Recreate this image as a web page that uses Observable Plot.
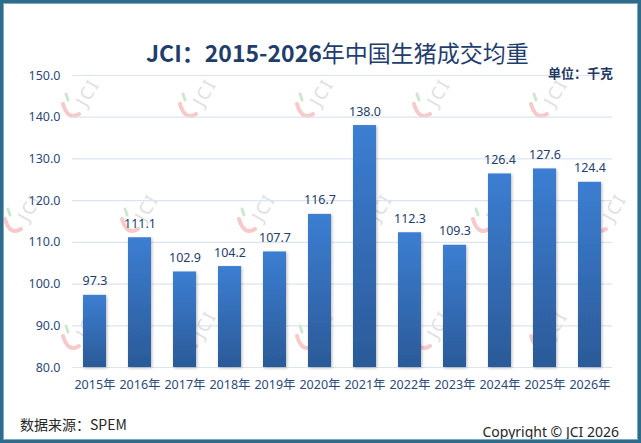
<!DOCTYPE html>
<html>
<head>
<meta charset="utf-8">
<script src="https://cdn.jsdelivr.net/npm/d3@7"></script>
<script src="https://cdn.jsdelivr.net/npm/@observablehq/plot@0.6"></script>
<style>
  html, body { margin: 0; padding: 0; background: #fff; }
  #page { position: relative; width: 641px; height: 443px; background: #fff; overflow: hidden; }
  #frame { position: absolute; left: 0; top: 0; width: 641px; height: 443px; box-sizing: border-box;
           border: 3px solid #2e6c8c; box-shadow: inset 0 0 0 1px #7fa9c2; pointer-events: none; z-index: 10; }
  #wm { position: absolute; left: 0; top: 0; z-index: 0; }
  #chart { position: absolute; left: 0; top: 60px; z-index: 1; }
  .txt { position: absolute; z-index: 2; white-space: nowrap; }
  #title { left: 146px; top: 35px; line-height: 28px; font: 23px "Noto Sans CJK SC", "Noto Sans", sans-serif; color: #1f3d6d; }
  #title b { font-weight: bold; }
  #unit { left: 548px; top: 63px; line-height: 18px; font: bold 13px "Noto Sans CJK SC", sans-serif; color: #1f3864; }
  #source { left: 20px; top: 414px; line-height: 18px; font: 14px "Noto Sans CJK SC", sans-serif; color: #262626; }
  #copy { right: 22px; top: 422px; line-height: 18px; font: 14px "Noto Sans", sans-serif; color: #262626; }
</style>
</head>
<body>
<div id="page">
  <svg id="wm" width="641" height="443"></svg>
  <div id="chart"></div>
  <div class="txt" id="title"><b>JCI：2015-2026</b>年中国生猪成交均重</div>
  <div class="txt" id="unit">单位：千克</div>
  <div class="txt" id="source">数据来源：SPEM</div>
  <div class="txt" id="copy">Copyright © JCI 2026</div>
  <div id="frame"></div>
</div>
<script>
// ---- data ----
const years = ["2015年","2016年","2017年","2018年","2019年","2020年","2021年","2022年","2023年","2024年","2025年","2026年"];
const weights = [97.3, 111.1, 102.9, 104.2, 107.7, 116.7, 138.0, 112.3, 109.3, 126.4, 127.6, 124.4];
const yTicks = [80, 90, 100, 110, 120, 130, 140, 150];

const data = years.map((year, i) => ({year, value: weights[i]}));
const yMin = yTicks[0], yMax = yTicks[yTicks.length - 1];

// ---- background watermark decoration ----
(function () {
  const wm = d3.select("#wm");
  const rows = [
    {cy: 98,  xs: [82, 199, 316, 433, 550]},
    {cy: 213, xs: [24, 141, 258, 375, 492, 609]},
    {cy: 330, xs: [82, 199, 316, 433, 550]}
  ];
  rows.forEach(r => r.xs.forEach(cx => {
    const g = wm.append("g").attr("transform", `translate(${cx},${r.cy})`);
    g.append("path").attr("d", "M-19,6 Q-14,23 -3,16").attr("fill", "none")
      .attr("stroke", "#f8c9c9").attr("stroke-width", 4).attr("stroke-linecap", "round");
    g.append("path").attr("d", "M-16,-4 L-14,2").attr("stroke", "#cfe7cf").attr("stroke-width", 3).attr("stroke-linecap", "round");
    g.append("text").attr("transform", "translate(7,-5) rotate(-60)")
      .attr("text-anchor", "middle").attr("dominant-baseline", "middle")
      .attr("font-family", "Noto Sans").attr("font-size", 18).attr("letter-spacing", 2)
      .attr("fill", "#e0e0e0").text("JCI");
  }));
})();

// ---- chart ----
const svgNS = "http://www.w3.org/2000/svg";
const defsMark = () => {
  const defs = document.createElementNS(svgNS, "defs");
  defs.innerHTML = `
    <linearGradient id="barGrad" x1="0" y1="0" x2="0" y2="1">
      <stop offset="0%" stop-color="#3c7ed2"/>
      <stop offset="100%" stop-color="#2b5a98"/>
    </linearGradient>
    <filter id="barShadow" x="-30%" y="-10%" width="160%" height="120%">
      <feDropShadow dx="1" dy="1" stdDeviation="1.4" flood-color="#000" flood-opacity="0.28"/>
    </filter>`;
  return defs;
};

const chart = Plot.plot({
  width: 641,
  height: 345,
  marginTop: 15,
  marginBottom: 38,
  marginLeft: 72,
  marginRight: 29,
  style: {background: "transparent", fontFamily: "Noto Sans, Noto Sans CJK SC, sans-serif", fontSize: "12.5px", color: "#2b4a7a"},
  x: {domain: years, paddingInner: 0.5, paddingOuter: 0.245, label: null, tickSize: 0, tickPadding: 13},
  y: {domain: [yMin, yMax], ticks: yTicks, tickFormat: d3.format(".1f"), label: null, tickSize: 0, tickPadding: 12},
  marks: [
    defsMark,
    Plot.gridY(yTicks, {stroke: "#dbe5f1", strokeOpacity: 1, strokeWidth: 1.2}),
    Plot.barY(data, {x: "year", y1: () => yMin, y2: "value", fill: "url(#barGrad)"}),
    Plot.text(data, {x: "year", y: "value", text: d => d.value.toFixed(1), dy: -14,
                     fill: "#1f3d6d", fontSize: 12.5, fontFamily: "Noto Sans"})
  ]
});
d3.select(chart).selectAll('g[aria-label="bar"]').attr("filter", "url(#barShadow)");
document.getElementById("chart").appendChild(chart);
</script>
</body>
</html>
